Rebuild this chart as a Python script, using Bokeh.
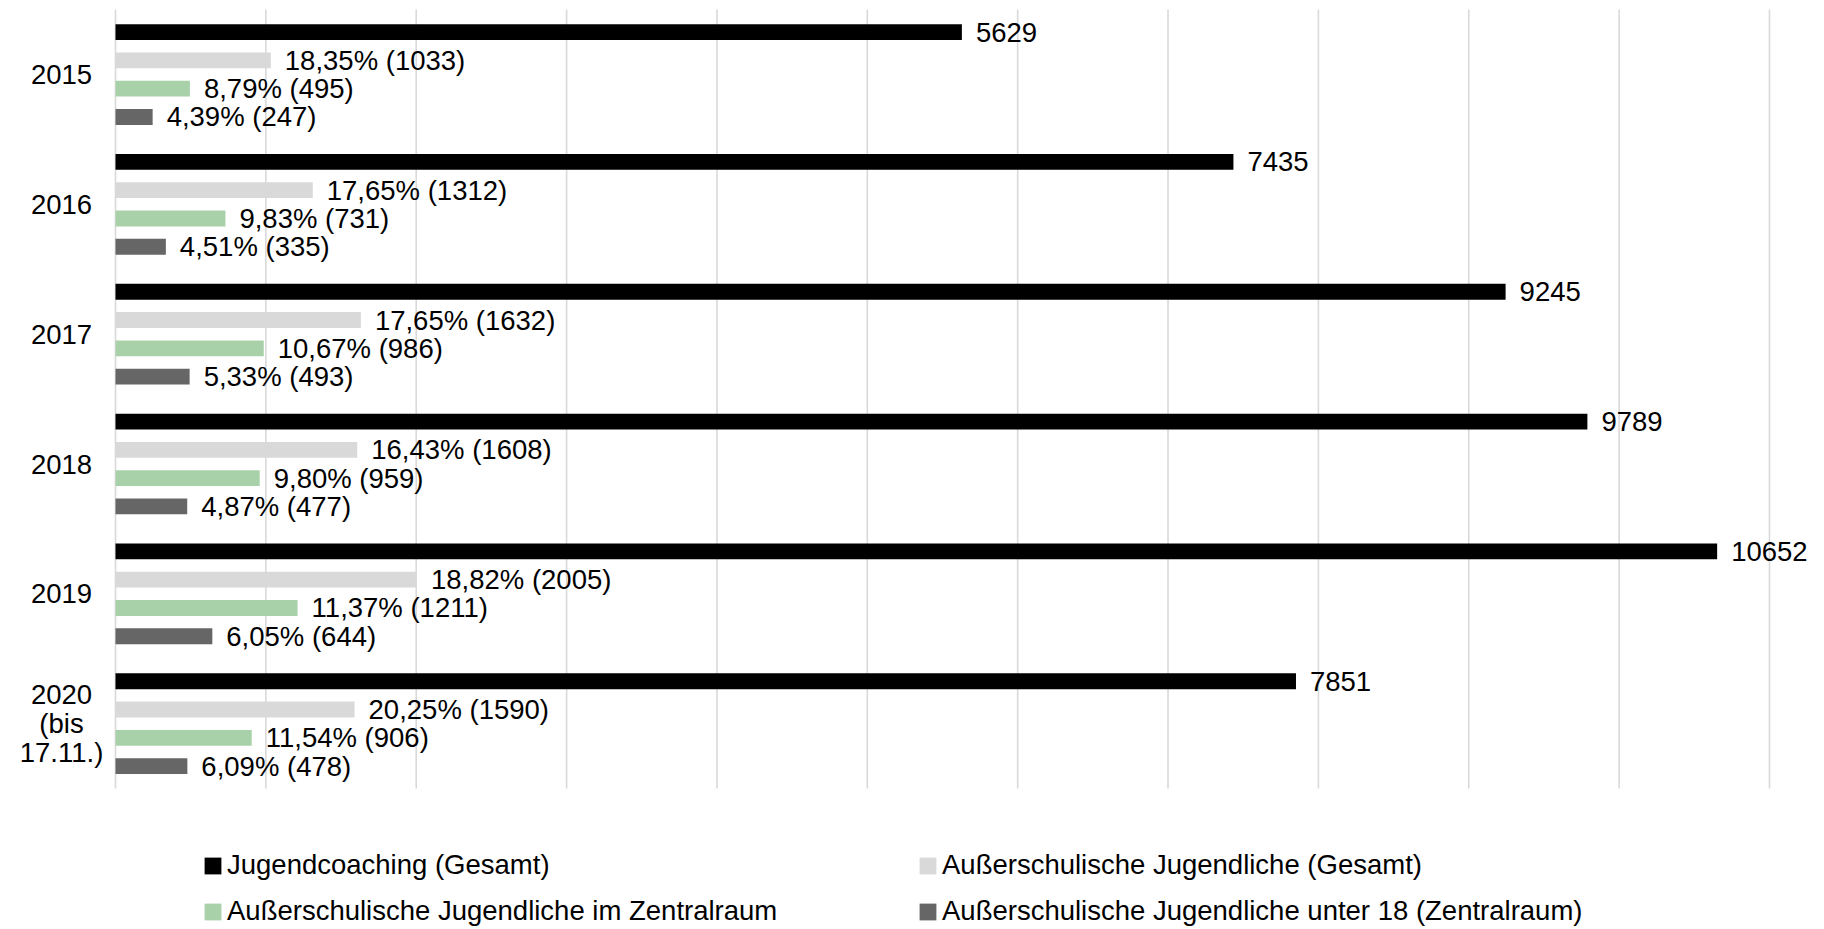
from bokeh.plotting import figure
from bokeh.models import (ColumnDataSource, FactorRange, Range1d, Legend, LegendItem)
from bokeh.transform import dodge
from bokeh.core.properties import value
from bokeh.embed import file_html
from bokeh.resources import INLINE

# ---------------- data ----------------
years = ["2015", "2016", "2017", "2018", "2019", "2020"]
year_labels = ["2015", "2016", "2017", "2018", "2019", "2020\n(bis\n17.11.)"]

jugendcoaching = [5629, 7435, 9245, 9789, 10652, 7851]
ausserschulisch = [1033, 1312, 1632, 1608, 2005, 1590]
zentralraum = [495, 731, 986, 959, 1211, 906]
unter18 = [247, 335, 493, 477, 644, 478]

labels_jc = ["5629", "7435", "9245", "9789", "10652", "7851"]
labels_as = ["18,35% (1033)", "17,65% (1312)", "17,65% (1632)",
             "16,43% (1608)", "18,82% (2005)", "20,25% (1590)"]
labels_zr = ["8,79% (495)", "9,83% (731)", "10,67% (986)",
             "9,80% (959)", "11,37% (1211)", "11,54% (906)"]
labels_u18 = ["4,39%  (247)", "4,51% (335)", "5,33% (493)",
              "4,87% (477)", "6,05% (644)", "6,09% (478)"]

series_names = ["Jugendcoaching (Gesamt)",
                "Außerschulische Jugendliche (Gesamt)",
                "Außerschulische Jugendliche im Zentralraum",
                "Außerschulische Jugendliche unter 18 (Zentralraum)"]
series_colors = ["#000000", "#d9d9d9", "#a9d1a9", "#666666"]

grid_ticks = [0, 1000, 2000, 3000, 4000, 5000, 6000, 7000, 8000, 9000, 10000, 11000]

# ---------------- figure ----------------
FONT = "Liberation Sans"
FS = "27.5px"
LEGEND_ROW = " "   # empty category row that holds the legend

p = figure(width=1822, height=927,
           y_range=FactorRange(factors=[LEGEND_ROW] + years[::-1],
                               range_padding=0.07, range_padding_units="absolute"),
           x_range=Range1d(-764.8, 11352.6),
           output_backend="svg", toolbar_location=None,
           min_border_left=0, min_border_right=0,
           min_border_top=0, min_border_bottom=0)
p.outline_line_color = None
p.background_fill_color = "white"
p.border_fill_color = "white"
p.xaxis.visible = False
p.yaxis.visible = False
p.xgrid.grid_line_color = None
p.ygrid.grid_line_color = None

# vertical gridlines spanning the category rows only
grid_src = ColumnDataSource(dict(x=grid_ticks,
                                 top=[years[0]] * len(grid_ticks),
                                 bottom=[years[-1]] * len(grid_ticks)))
p.segment(x0="x", x1="x",
          y0=dodge("top", 0.5, range=p.y_range),
          y1=dodge("bottom", -0.5, range=p.y_range),
          source=grid_src, line_color="#d9d9d9", line_width=1.6)

source = ColumnDataSource(dict(
    year=years, year_label=year_labels,
    jc=jugendcoaching, aus=ausserschulisch, zr=zentralraum, u18=unter18,
    l_jc=labels_jc, l_aus=labels_as, l_zr=labels_zr, l_u18=labels_u18,
))

cols = ["jc", "aus", "zr", "u18"]
lab_cols = ["l_jc", "l_aus", "l_zr", "l_u18"]
offsets = [0.327, 0.109, -0.109, -0.327]
bar_h = 0.122

renderers = []
for col, lcol, off, color in zip(cols, lab_cols, offsets, series_colors):
    yd = dodge("year", off, range=p.y_range)
    r = p.hbar(y=yd, right=col, left=0, height=bar_h, source=source,
               fill_color=color, line_color=None)
    p.text(x=col, y=yd, text=lcol, source=source, x_offset=14,
           text_baseline="middle", text_align="left",
           text_font=value(FONT), text_font_size=FS, text_color="#000000")
    renderers.append(r)

# category labels left of the bars
p.text(x=0, y="year", text="year_label", source=source, x_offset=-54,
       text_align="center", text_baseline="middle",
       text_font=value(FONT), text_font_size=FS, text_color="#000000",
       text_line_height=0.93)

# legend: two columns
common = dict(label_text_font=FONT, label_text_font_size=FS,
              label_text_color="#000000", glyph_width=21, glyph_height=21,
              label_standoff=4, spacing=14, padding=0, margin=0,
              orientation="vertical",
              border_line_color=None, background_fill_color=None,
              background_fill_alpha=0)
leg1 = Legend(items=[LegendItem(label=series_names[0], renderers=[renderers[0]]),
                     LegendItem(label=series_names[2], renderers=[renderers[2]])],
              location=(202, 0), **common)
leg2 = Legend(items=[LegendItem(label=series_names[1], renderers=[renderers[1]]),
                     LegendItem(label=series_names[3], renderers=[renderers[3]])],
              location=(917, 0), **common)
p.add_layout(leg1)
p.add_layout(leg2)

open("out.html", "w").write(file_html(p, INLINE))
